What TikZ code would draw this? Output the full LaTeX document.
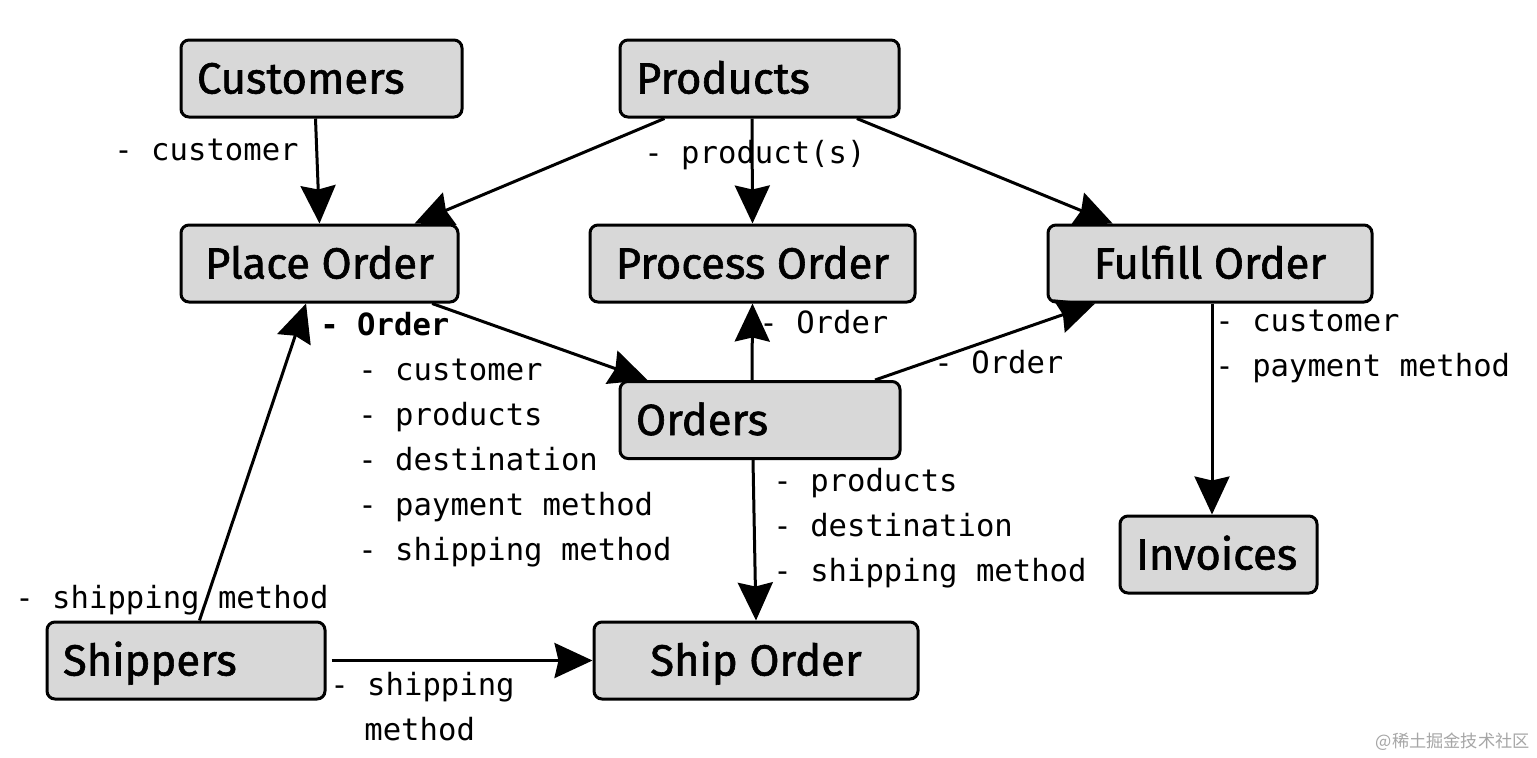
\documentclass[tikz,border=0pt]{standalone}
\usepackage{fontspec}
\setmainfont{Fira Sans}
\newfontfamily\boxfont{Fira Sans}[FakeBold=1.4]
\newfontfamily\lblfont{DejaVu Sans Mono}
\newfontfamily\cjkfont{Noto Sans CJK SC}
\usetikzlibrary{arrows.meta}
\definecolor{boxgray}{RGB}{216,216,216}
\tikzset{
  proc/.style={draw, line width=1.5pt, rounded corners=4pt, fill=boxgray,
    minimum height=38.5pt, inner xsep=0pt, inner ysep=0pt,
    text height=15pt, text depth=0pt,
    font=\boxfont\fontsize{21.8}{26}\selectfont},
  lbl/.style={anchor=base west, inner sep=0pt,
    font=\lblfont\fontsize{15.3}{22.5}\selectfont},
  arr/.style={-{Stealth[length=19pt,width=17.5pt,inset=2pt]}, line width=1.5pt}
}
\begin{document}
\begin{tikzpicture}[x=0.5pt,y=-0.5pt]
\useasboundingbox[fill=white] (0,0) rectangle (1537,757);

% boxes
\node[proc, minimum width=140.5pt] (customers) at (321.5,78.5) {\makebox[124.5pt][l]{Customers}};
\node[proc, minimum width=139.5pt] (products) at (759.5,78.5) {\makebox[123.5pt][l]{Products}};
\node[proc, minimum width=138.5pt] (place) at (319.5,263.5) {Place Order};
\node[proc, minimum width=162.5pt] (process) at (752.5,263.5) {Process Order};
\node[proc, minimum width=162pt] (fulfill) at (1210,263.5) {Fulfill Order};
\node[proc, minimum width=140pt] (orders) at (760,420) {\makebox[124pt][l]{Orders}};
\node[proc, minimum width=98.5pt] (invoices) at (1218.5,554.5) {\makebox[82.5pt][l]{Invoices}};
\node[proc, minimum width=139pt] (shippers) at (186,660.5) {\makebox[123pt][l]{Shippers}};
\node[proc, minimum width=162pt] (ship) at (756,660.5) {Ship Order};

% connectors
\draw[arr] ([xshift=-3pt]customers.south) -- (place.north);
\draw[arr] (products) -- (place);
\draw[arr] ([xshift=-3.75pt]products.south) -- (process.north);
\draw[arr] (products) -- (fulfill);
\draw[arr] (place) -- (orders);
\draw[arr] ([xshift=-4pt]orders.north) -- (process.south);
\draw[arr] (orders) -- (fulfill);
\draw[arr] ([xshift=1pt]fulfill.south) -- ([xshift=-3.25pt]invoices.north);
\draw[arr] ([xshift=-3.5pt]orders.south) -- (ship.north);
\draw[arr] (shippers) -- (place);
\draw[arr] ([xshift=2.5pt]shippers.east) -- (ship.west);

% labels
\node[lbl] (l1) at (114,160) {- customer};
\node[lbl] (l2) at (644,163) {- product(s)};
\node[lbl] (l3) at (759,333) {- Order};
\node[lbl] (l4) at (934,373) {- Order};
\node[lbl] (l5a) at (1215,331) {- customer};
\node[lbl] (l5b) at (1215,376) {- payment method};
\node[lbl] (l6a) at (773,491) {- products};
\node[lbl] (l6b) at (773,536) {- destination};
\node[lbl] (l6c) at (773,581) {- shipping method};
\node[lbl] (l7) at (15,608) {- shipping method};
\node[lbl] (l8a) at (330,695) {- shipping};
\node[lbl] (l8b) at (364,740) {method};
\node[lbl, font=\lblfont\bfseries\fontsize{15.3}{22.5}\selectfont] (l9) at (320,335) {- Order};
\node[lbl] (l9a) at (358,380) {- customer};
\node[lbl] (l9b) at (358,425) {- products};
\node[lbl] (l9c) at (358,470) {- destination};
\node[lbl] (l9d) at (358,515) {- payment method};
\node[lbl] (l9e) at (358,560) {- shipping method};

% watermark
\node[anchor=base east, inner sep=0pt, text=black!35, font=\cjkfont\fontsize{8.6}{10}\selectfont] (wm) at (1530,747) {@稀土掘金技术社区};
\end{tikzpicture}
\end{document}
